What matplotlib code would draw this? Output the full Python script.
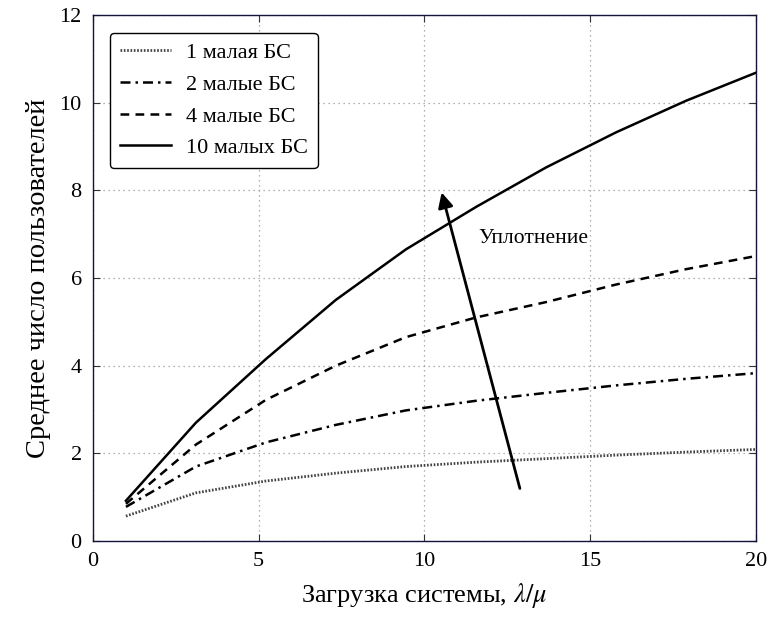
import numpy as np
import matplotlib
matplotlib.use("Agg")
import matplotlib.pyplot as plt

plt.rcParams['font.family'] = ['Liberation Serif', 'DejaVu Serif']
plt.rcParams['mathtext.fontset'] = 'stix'

# load factor lambda/mu
load = [1.0, 3.11, 5.22, 7.33, 9.44, 11.56, 13.67, 15.78, 17.89, 20.0]

# mean number of users per scenario
users_1 = [0.57, 1.10, 1.37, 1.55, 1.70, 1.80, 1.88, 1.96, 2.03, 2.09]
users_2 = [0.78, 1.70, 2.25, 2.65, 2.98, 3.20, 3.38, 3.55, 3.70, 3.83]
users_4 = [0.85, 2.20, 3.22, 4.00, 4.65, 5.10, 5.45, 5.85, 6.20, 6.50]
users_10 = [0.92, 2.70, 4.15, 5.50, 6.65, 7.62, 8.52, 9.32, 10.04, 10.68]

labels = ['1 малая БС', '2 малые БС', '4 малые БС', '10 малых БС']

fig = plt.figure(figsize=(7.73, 6.17), dpi=100)
ax = fig.add_axes([0.120, 0.123, 0.858, 0.853])

ax.plot(load, users_1, color='#444444', linestyle=(0, (0.6, 0.6)), lw=2.0, label=labels[0])
ax.plot(load, users_2, color='black', linestyle=(0, (4, 2, 1, 2)), lw=1.8, label=labels[1])
ax.plot(load, users_4, color='black', linestyle=(0, (3.5, 2.5)), lw=1.8, label=labels[2])
ax.plot(load, users_10, color='black', linestyle='-', lw=1.8, label=labels[3])

# densification arrow
ax.annotate('', xy=(10.52, 7.95), xytext=(12.88, 1.2),
            arrowprops=dict(arrowstyle='-|>,head_length=0.9,head_width=0.45',
                            color='black', lw=2.0, shrinkA=0, shrinkB=0))
ax.text(13.3, 6.9, 'Уплотнение', fontsize=15.5, ha='center', va='center')

ax.set_xlim(0, 20)
ax.set_ylim(0, 12)
ax.set_xticks([0, 5, 10, 15, 20])
ax.set_yticks([0, 2, 4, 6, 8, 10, 12])
ax.grid(True, linestyle=(0, (1, 3)), color='#999999', lw=0.9)
ax.tick_params(direction='in', length=5, top=True, right=True, labelsize=16, pad=8,
               color='#333333')
for s in ax.spines.values():
    s.set_color('#14143a')
    s.set_linewidth(1.0)

ax.set_xlabel('Загрузка системы, $\\lambda/\\mu$', fontsize=19, labelpad=7)
ax.set_ylabel('Среднее число пользователей', fontsize=20.5, labelpad=6)

leg = ax.legend(loc='upper left', bbox_to_anchor=(0.026, 0.966), fontsize=16,
                frameon=True, fancybox=True, edgecolor='black', framealpha=1,
                handlelength=2.3, handletextpad=0.65, labelspacing=0.5,
                borderpad=0.45, borderaxespad=0)
leg.get_frame().set_linewidth(1.0)

fig.savefig('out.png', dpi=100)
